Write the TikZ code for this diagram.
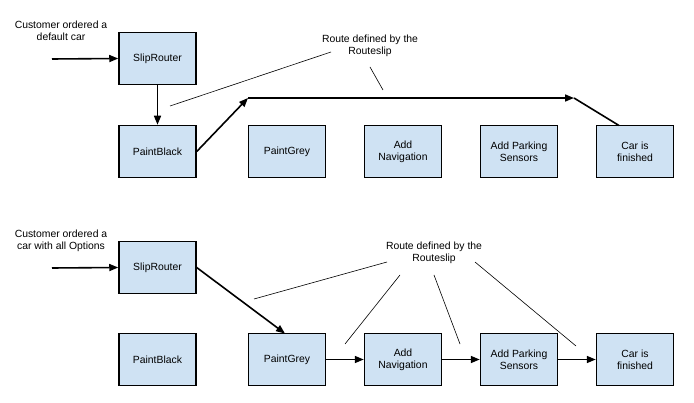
\documentclass[tikz,border=0pt]{standalone}
\usepackage{fontspec}
\setmainfont{Liberation Sans}
\usetikzlibrary{arrows.meta}
\definecolor{boxfill}{HTML}{CFE2F3}
\begin{document}
\begin{tikzpicture}[x=1pt,y=-1pt,
  box/.style={draw=black,fill=boxfill,line width=1.5pt,minimum width=77pt,minimum height=52pt,inner sep=0pt,align=center,font=\fontsize{10.4}{12}\selectfont},
  lbl/.style={align=center,font=\fontsize{10.4}{12}\selectfont,inner sep=0pt},
  flow/.style={line width=1.6pt,-{Triangle[length=9pt,width=7pt]}},
  flowplain/.style={line width=1.6pt},
  note/.style={line width=0.6pt}]
\useasboundingbox (0,0) rectangle (694,403);
% top row
\node[box] (sr1) at (157.5,58.5) {SlipRouter};
\node[box] (pb1) at (157.5,151.5) {PaintBlack};
\node[box] (pg1) at (287,151.5) {PaintGrey};
\node[box] (an1) at (403,151.5) {Add\\Navigation};
\node[box] (ap1) at (519,151.5) {Add Parking\\Sensors};
\node[box] (cf1) at (635,151.5) {Car is\\finished};
\node[lbl] (c1) at (61,31) {Customer ordered a\\default car};
\coordinate (in1) at (52,59);
\draw[flow] (in1) -- (sr1.west);
\draw[flow] (sr1.south) -- (pb1.north);
\coordinate (k1) at (248,98);
\coordinate (k2) at (574,98);
\draw[flow] (pb1.east) -- (k1);
\draw[flow] (k1) -- (k2);
\draw[flowplain] (k2) -- (619,125.5);
\node[lbl] (r1) at (370,46) {Route defined by the\\Routeslip};
\coordinate (r1a) at (331,52);
\coordinate (r1b) at (170,106);
\coordinate (r1c) at (370,67);
\coordinate (r1d) at (383,90);
\draw[note] (r1a) -- (r1b);
\draw[note] (r1c) -- (r1d);
% bottom row
\node[box] (sr2) at (157.5,267.5) {SlipRouter};
\node[box] (pb2) at (157.5,359.5) {PaintBlack};
\node[box] (pg2) at (287,359.5) {PaintGrey};
\node[box] (an2) at (403,359.5) {Add\\Navigation};
\node[box] (ap2) at (519,359.5) {Add Parking\\Sensors};
\node[box] (cf2) at (635,359.5) {Car is\\finished};
\node[lbl] (c2) at (61,241) {Customer ordered a\\car with all Options};
\coordinate (in2) at (52,268);
\draw[flow] (in2) -- (sr2.west);
\draw[flow] (196,267) -- (285,333.5);
\draw[flow] (pg2.east) -- (an2.west);
\draw[flow] (an2.east) -- (ap2.west);
\draw[flow] (ap2.east) -- (cf2.west);
\node[lbl] (r2) at (434,253) {Route defined by the\\Routeslip};
\draw[note] (254,299) -- (387,262);
\draw[note] (400,275) -- (345,344);
\draw[note] (434,275) -- (460,344);
\draw[note] (475,262) -- (576,346);
\end{tikzpicture}
\end{document}
